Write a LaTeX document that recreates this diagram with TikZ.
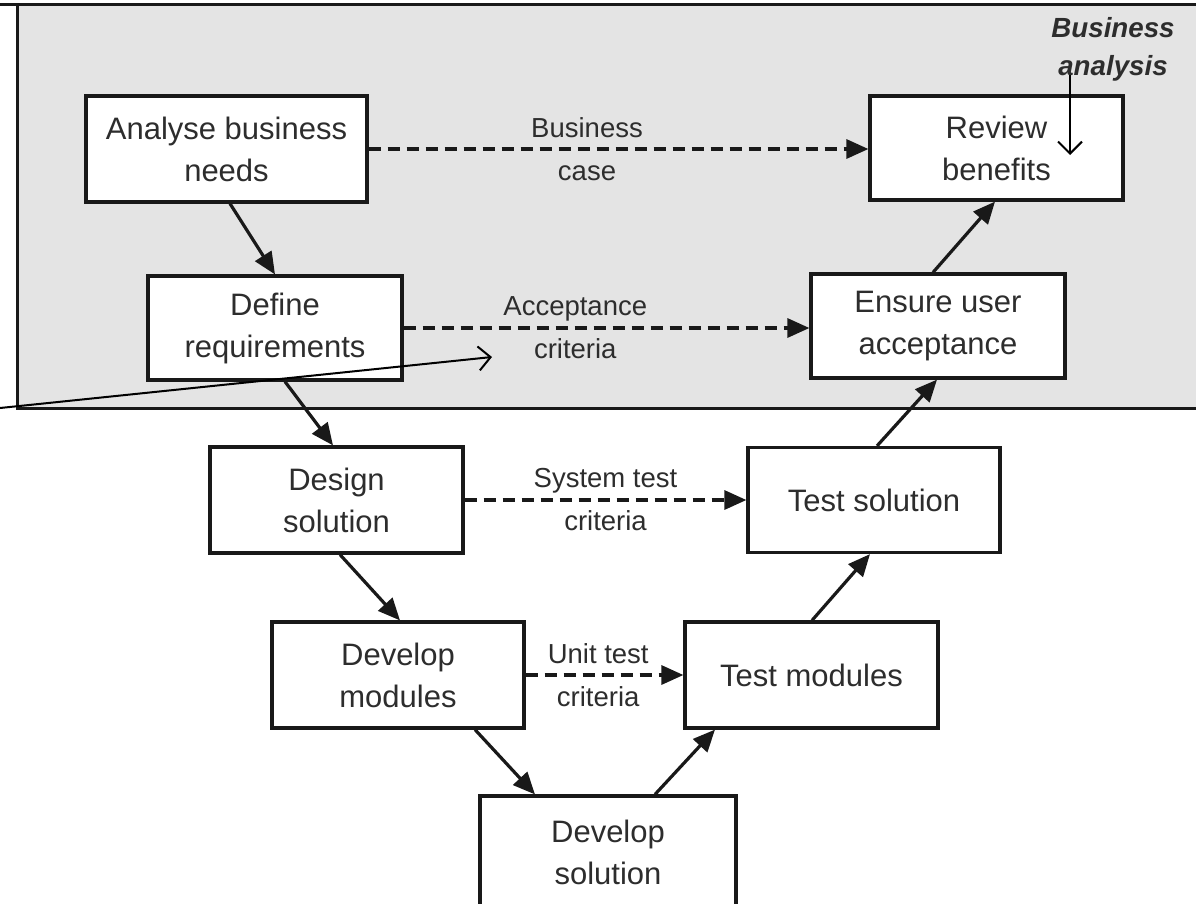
\documentclass[tikz,border=0pt]{standalone}
\usepackage{fontspec}
\setmainfont{Liberation Sans}
\usetikzlibrary{arrows.meta}
\definecolor{bagray}{RGB}{228,228,228}
\definecolor{txt}{RGB}{45,45,45}
\definecolor{ln}{RGB}{25,25,25}
\begin{document}
\begin{tikzpicture}[x=1pt,y=-1pt,
  box/.style={draw=ln,line width=3.2pt,fill=white,text=txt,align=center,inner sep=0pt,font=\fontsize{31}{42}\selectfont},
  flow/.style={draw=ln,line width=3.2pt,-{Triangle[length=22pt,width=19pt]}},
  dflow/.style={flow,dash pattern=on 12pt off 7pt},
  lbl/.style={text=txt,align=center,font=\fontsize{27.5}{43}\selectfont,inner sep=0pt},
  note/.style={draw=black,line width=2pt,-{Straight Barb[length=12pt,width=24pt]}}]
\useasboundingbox (0,0) rectangle (1196,903);
% business analysis area
\fill[bagray] (17,4) rectangle (1200,408);
\draw[ln,line width=3pt] (0,4) -- (1200,4);
\draw[ln,line width=3pt] (17,4) -- (17,408) -- (1200,408);
\node[text=txt,align=center,inner sep=0pt,font=\bfseries\itshape\fontsize{27.7}{38}\selectfont] (ba) at (1113,49) {Business\\analysis};
% boxes
\node[box,minimum width=281pt,minimum height=106pt] (an) at (226.5,149) {Analyse business\\needs};
\node[box,minimum width=253pt,minimum height=104pt] (rb) at (996.5,148) {Review\\benefits};
\node[box,minimum width=254pt,minimum height=104pt] (def) at (275,328) {Define\\requirements};
\node[box,minimum width=254pt,minimum height=104pt] (ens) at (938,326) {Ensure user\\acceptance};
\node[box,minimum width=253pt,minimum height=106pt] (des) at (336.5,500) {Design\\solution};
\node[box,minimum width=252pt,minimum height=105pt] (ts) at (874,500) {Test solution};
\node[box,minimum width=252pt,minimum height=106pt] (dm) at (398,675) {Develop\\modules};
\node[box,minimum width=253pt,minimum height=106pt] (tm) at (811.5,675) {Test modules};
\node[box,minimum width=256pt,minimum height=112pt] (ds) at (608,852) {Develop\\solution};
% flow arrows
\draw[flow] ([xshift=3.5pt]an.south) -- (def.north);
\draw[flow] ([xshift=10pt]def.south) -- ([xshift=-3.5pt]des.north);
\draw[flow] ([xshift=3.5pt]des.south) -- ([xshift=2pt]dm.north);
\draw[flow] ([xshift=77pt]dm.south) -- ([xshift=-73pt]ds.north);
\draw[flow] ([xshift=47pt]ds.north) -- ([xshift=-96.5pt]tm.south);
\draw[flow] ([xshift=0.5pt]tm.north) -- ([xshift=-4pt]ts.south);
\draw[flow] ([xshift=3pt]ts.north) -- ([xshift=-1pt]ens.south);
\draw[flow] ([xshift=-5pt]ens.north) -- ([xshift=-1.5pt]rb.south);
% dashed criteria arrows
\draw[dflow] (an.east) -- (an.east -| rb.west) node[lbl,pos=0.437] (l1) {Business\\case};
\draw[dflow] (def.east) -- (def.east -| ens.west) node[lbl,pos=0.423] (l2) {Acceptance\\criteria};
\draw[dflow] (des.east) -- (des.east -| ts.west) node[lbl,pos=0.5] (l3) {System test\\criteria};
\draw[dflow] (dm.east) -- (dm.east -| tm.west) node[lbl,pos=0.46] (l4) {Unit test\\criteria};
% annotation arrows
\coordinate (n1) at (0,408);
\coordinate (n1e) at (492,357);
\draw[note] (n1) -- (n1e);
\coordinate (n2) at (1070,75);
\coordinate (n2e) at (1070,155);
\draw[note] (n2) -- (n2e);
\end{tikzpicture}
\end{document}
